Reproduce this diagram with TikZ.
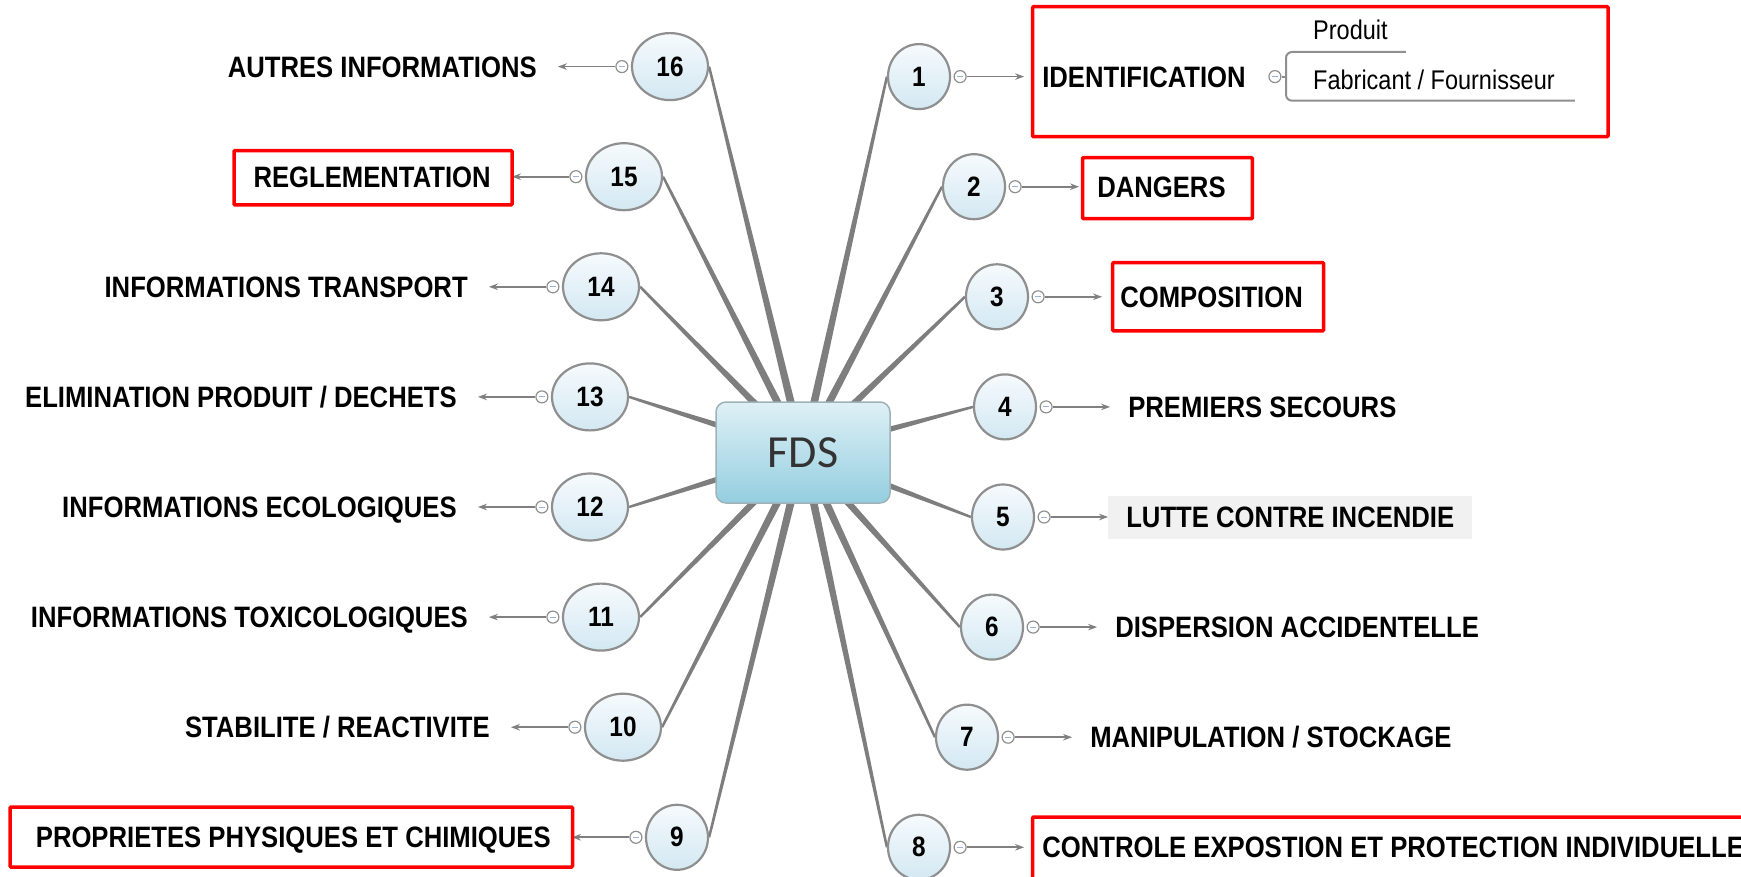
\documentclass[tikz,border=0pt]{standalone}
\usepackage{fontspec}
\setmainfont{Liberation Sans}
\newfontfamily\lblfont[FakeStretch=0.87]{Liberation Sans}
\newfontfamily\fdsfont{Carlito}
\usetikzlibrary{shapes.geometric,calc,arrows.meta}
\pgfdeclarelayer{background}
\pgfsetlayers{background,main}
\definecolor{circgray}{HTML}{8F8F8F}
\definecolor{circtop}{HTML}{F6FAFD}
\definecolor{circbot}{HTML}{D3E8F2}
\definecolor{spokecol}{HTML}{7E7E7E}
\definecolor{arrgray}{HTML}{808080}
\definecolor{markblue}{HTML}{9BB3D9}
\definecolor{fdstop}{HTML}{DFF0F6}
\definecolor{fdsbot}{HTML}{94CEE0}
\definecolor{fdsborder}{HTML}{9FB2B8}
\definecolor{fdstext}{HTML}{333333}
\definecolor{lutte}{HTML}{F1F1F1}
\definecolor{redline}{HTML}{FF0000}
\tikzset{
  num/.style={ellipse, draw=circgray, line width=2.2pt, top color=circtop, bottom color=circbot,
    inner sep=0pt, minimum width=62pt, minimum height=65pt,
    font=\lblfont\bfseries\fontsize{28}{28}\selectfont},
  numw/.style={num, minimum width=76pt, minimum height=67pt},
  marker/.style={circle, draw=circgray, fill=white, line width=1.2pt, minimum size=12pt, inner sep=0pt,
    path picture={\draw[markblue, line width=1pt] ([xshift=-2.8pt]path picture bounding box.center) -- ([xshift=2.8pt]path picture bounding box.center);}},
  conn/.style={draw=arrgray, line width=1.8pt, -{Stealth[length=9pt,width=6.5pt]}},
  lbl/.style={inner ysep=0pt, text height=21pt, text depth=0pt,
    font=\lblfont\bfseries\fontsize{29.5}{30}\selectfont},
  lblR/.style={lbl, anchor=west, inner xsep=18pt},
  lblL/.style={lbl, anchor=east, inner xsep=21pt},
  subtxt/.style={inner sep=0pt, font=\lblfont\fontsize{27}{27}\selectfont},
  brk/.style={draw=circgray, line width=2pt},
  redbox/.style={draw=redline, line width=3.5pt, rounded corners=1pt},
  fdsbox/.style={rectangle, rounded corners=10pt, minimum width=174pt, minimum height=101pt,
    top color=fdstop, bottom color=fdsbot, draw=fdsborder, line width=1.5pt,
    text=fdstext, font=\fdsfont\fontsize{46}{46}\selectfont},
}
\newcommand\rbranch[6]{%
  \node[#4] (c#1) at (#2,#3) {#1};
  \node[marker] (m#1) at ($(c#1.east)+(9,0)$) {};
  \node[lblR,#5] (l#1) at ($(m#1.center)+(64,0)$) {#6};
  \draw[conn] (m#1) -- (l#1.west);
}
\newcommand\lbranch[6]{%
  \node[#4] (c#1) at (#2,#3) {#1};
  \node[marker] (m#1) at ($(c#1.west)+(-9,0)$) {};
  \node[lblL,#5] (l#1) at ($(m#1.center)+(-64,0)$) {#6};
  \draw[conn] (m#1) -- (l#1.east);
}
\newcommand\fdsspoke[1]{%
  \fill[spokecol] ($(fds.center)!4.2pt!90:(#1)$) -- ($(#1)!1.2pt!-90:(fds.center)$)
    -- ($(#1)!1.2pt!90:(fds.center)$) -- ($(fds.center)!4.2pt!-90:(#1)$) -- cycle;
}
\begin{document}
\begin{tikzpicture}[x=1pt,y=-1pt]
\useasboundingbox (0,0) rectangle (1741,877);
\clip (0,0) rectangle (1741,877);
\begin{pgfonlayer}{background}
\fill[white] (0,0) rectangle (1741,877);
\end{pgfonlayer}

\node[fdsbox] (fds) at (803,452.5) {FDS};

% right side
\rbranch{1}{919}{76.6}{num}{}{IDENTIFICATION}
\rbranch{2}{974}{186.7}{num}{}{DANGERS}
\rbranch{3}{997}{296.8}{num}{}{COMPOSITION}
\rbranch{4}{1005}{406.9}{num}{}{PREMIERS SECOURS}
\rbranch{5}{1003}{517}{num}{fill=lutte, inner ysep=11pt}{LUTTE CONTRE INCENDIE}
\rbranch{6}{992}{627.1}{num}{}{DISPERSION ACCIDENTELLE}
\rbranch{7}{967}{737.2}{num}{}{MANIPULATION / STOCKAGE}
\rbranch{8}{919}{847.3}{num}{}{CONTROLE EXPOSTION ET PROTECTION INDIVIDUELLE}

% left side
\lbranch{9}{677}{837.3}{num}{}{PROPRIETES PHYSIQUES ET CHIMIQUES}
\lbranch{10}{623}{727.2}{numw}{}{STABILITE / REACTIVITE}
\lbranch{11}{601}{617.1}{numw}{}{INFORMATIONS TOXICOLOGIQUES}
\lbranch{12}{590}{507}{numw}{}{INFORMATIONS ECOLOGIQUES}
\lbranch{13}{590}{396.9}{numw}{}{ELIMINATION PRODUIT / DECHETS}
\lbranch{14}{601}{286.8}{numw}{}{INFORMATIONS TRANSPORT}
\lbranch{15}{624}{176.7}{numw}{}{REGLEMENTATION}
\lbranch{16}{670}{66.6}{numw}{}{AUTRES INFORMATIONS}

% spokes
\begin{pgfonlayer}{background}
\foreach \i in {1,...,8} {\fdsspoke{c\i.west}}
\foreach \i in {9,...,16} {\fdsspoke{c\i.east}}
\end{pgfonlayer}

% identification sub-branches
\node[marker] (mId) at ($(l1.east)+(11,0)$) {};
\node[subtxt, anchor=base west] (prod) at (1313,40) {Produit};
\node[subtxt, anchor=base west] (fab) at (1313,89.3) {Fabricant / Fournisseur};
\coordinate (bv) at ($(mId.east)+(4.5,0)$);
\draw[brk] (mId.east) -- (bv);
\draw[brk, rounded corners=6pt] ($(prod.base east)+(18,12)$) -| (bv) |- ($(fab.base east)+(20,11.4)$);

% red highlight boxes
\draw[redbox] (1032.6,6.7) rectangle (1608,136.7);
\draw[redbox] (1082.5,157.7) rectangle (1252.4,218.7);
\draw[redbox] (1112.7,262.7) rectangle (1323.5,330.9);
\draw[redbox] (1032.6,817) rectangle (1770,900);
\draw[redbox] (234,150.7) rectangle (512,205);
\draw[redbox] (10,807) rectangle (572.5,867);
\end{tikzpicture}
\end{document}
